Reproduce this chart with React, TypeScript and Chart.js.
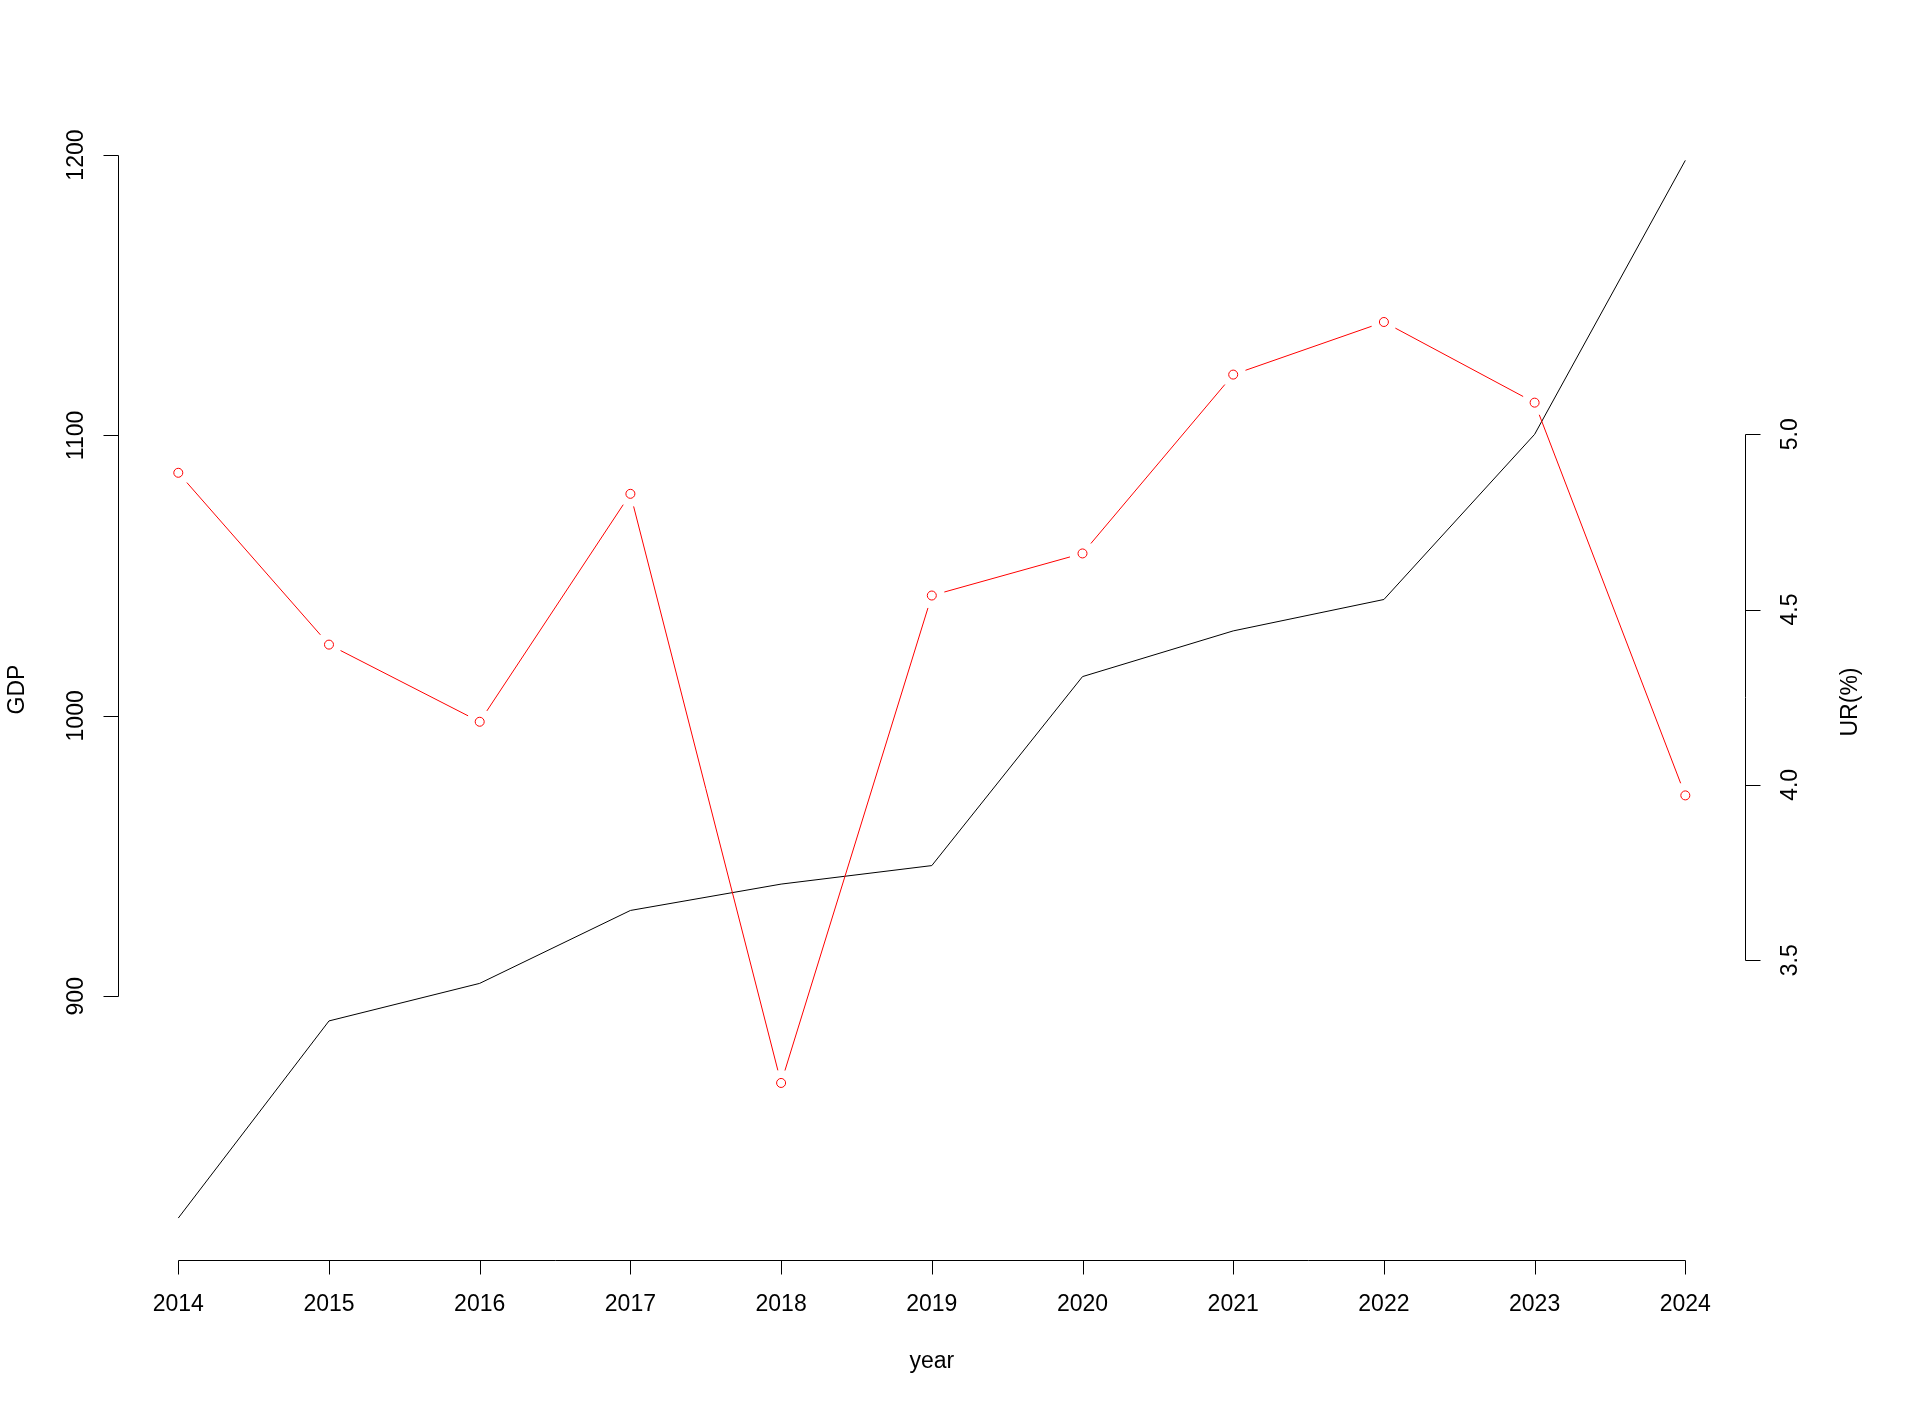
import React, { useEffect, useRef } from "react";
import { Chart, registerables } from "chart.js";

Chart.register(...registerables);

const years = [2014, 2015, 2016, 2017, 2018, 2019, 2020, 2021, 2022, 2023, 2024];
const gdp = [820.9, 891.2, 904.6, 930.6, 940.0, 946.6, 1014.0, 1030.3, 1041.5, 1100.4, 1198.1];
const ur = [4.89, 4.4, 4.18, 4.83, 3.15, 4.54, 4.66, 5.17, 5.32, 5.09, 3.97];
const gdpTicks = [900, 1000, 1100, 1200];
const urTicks = [3.5, 4.0, 4.5, 5.0];
const xLabel = "year";
const yLabel = "GDP";
const y2Label = "UR(%)";

const FONT = '23px "Liberation Sans", Arial, sans-serif';

const rAxesPlugin = {
  id: "rAxes",
  afterDatasetsDraw(chart: any) {
    const ctx = chart.ctx as CanvasRenderingContext2D;
    const xs = chart.scales.x;
    const ys = chart.scales.y;
    const y2s = chart.scales.y2;
    const area = chart.chartArea;

    // gapped red line (type = "b")
    const meta = chart.getDatasetMeta(1);
    const gap = 13;
    ctx.save();
    ctx.strokeStyle = "#FF0000";
    ctx.lineWidth = 1;
    for (let i = 0; i < meta.data.length - 1; i++) {
      const a = meta.data[i];
      const b = meta.data[i + 1];
      const dx = b.x - a.x;
      const dy = b.y - a.y;
      const len = Math.hypot(dx, dy);
      if (len <= 2 * gap) continue;
      const ux = dx / len;
      const uy = dy / len;
      ctx.beginPath();
      ctx.moveTo(a.x + ux * gap, a.y + uy * gap);
      ctx.lineTo(b.x - ux * gap, b.y - uy * gap);
      ctx.stroke();
    }
    ctx.restore();

    ctx.save();
    ctx.strokeStyle = "#000";
    ctx.fillStyle = "#000";
    ctx.lineWidth = 1;
    ctx.font = FONT;

    // bottom axis
    const xb = Math.round(area.bottom) + 0.5;
    const x0 = Math.round(xs.getPixelForValue(years[0])) + 0.5;
    const x1 = Math.round(xs.getPixelForValue(years[years.length - 1])) + 0.5;
    ctx.beginPath();
    ctx.moveTo(x0, xb);
    ctx.lineTo(x1, xb);
    years.forEach((yv) => {
      const px = Math.round(xs.getPixelForValue(yv)) + 0.5;
      ctx.moveTo(px, xb);
      ctx.lineTo(px, xb + 14);
    });
    ctx.stroke();
    ctx.textAlign = "center";
    ctx.textBaseline = "middle";
    years.forEach((yv) => {
      ctx.fillText(String(yv), xs.getPixelForValue(yv), xb + 44);
    });
    ctx.fillText(xLabel, (area.left + area.right) / 2, xb + 101);

    // left axis
    const xl = Math.round(area.left) + 0.5;
    ctx.beginPath();
    ctx.moveTo(xl, Math.round(ys.getPixelForValue(gdpTicks[0])) + 0.5);
    ctx.lineTo(xl, Math.round(ys.getPixelForValue(gdpTicks[gdpTicks.length - 1])) + 0.5);
    gdpTicks.forEach((t) => {
      const py = Math.round(ys.getPixelForValue(t)) + 0.5;
      ctx.moveTo(xl, py);
      ctx.lineTo(xl - 15, py);
    });
    ctx.stroke();
    gdpTicks.forEach((t) => {
      const py = ys.getPixelForValue(t);
      ctx.save();
      ctx.translate(xl - 42, py);
      ctx.rotate(-Math.PI / 2);
      ctx.fillText(String(t), 0, 0);
      ctx.restore();
    });
    ctx.save();
    ctx.translate(18, (area.top + area.bottom) / 2);
    ctx.rotate(-Math.PI / 2);
    ctx.fillText(yLabel, 0, 0);
    ctx.restore();

    // right axis
    const xr = Math.round(area.right) - 0.5;
    ctx.beginPath();
    ctx.moveTo(xr, Math.round(y2s.getPixelForValue(urTicks[0])) + 0.5);
    ctx.lineTo(xr, Math.round(y2s.getPixelForValue(urTicks[urTicks.length - 1])) + 0.5);
    urTicks.forEach((t) => {
      const py = Math.round(y2s.getPixelForValue(t)) + 0.5;
      ctx.moveTo(xr, py);
      ctx.lineTo(xr + 15, py);
    });
    ctx.stroke();
    urTicks.forEach((t) => {
      const py = y2s.getPixelForValue(t);
      ctx.save();
      ctx.translate(xr + 45, py);
      ctx.rotate(-Math.PI / 2);
      ctx.fillText(t.toFixed(1), 0, 0);
      ctx.restore();
    });
    ctx.save();
    ctx.translate(xr + 105, 702);
    ctx.rotate(-Math.PI / 2);
    ctx.fillText(y2Label, 0, 0);
    ctx.restore();

    ctx.restore();
  },
};

export default function App() {
  const ref = useRef<HTMLCanvasElement>(null);
  useEffect(() => {
    if (!ref.current) return;
    const chart = new Chart(ref.current, {
      type: "line",
      data: {
        datasets: [
          {
            label: "GDP",
            data: years.map((x, i) => ({ x, y: gdp[i] })),
            borderColor: "#000000",
            borderWidth: 1,
            pointRadius: 0,
            yAxisID: "y",
            order: 1,
            tension: 0,
          },
          {
            label: "UR",
            data: years.map((x, i) => ({ x, y: ur[i] })),
            borderColor: "#FF0000",
            backgroundColor: "rgba(0,0,0,0)",
            borderWidth: 1,
            showLine: false,
            pointRadius: 4.5,
            pointBorderWidth: 1,
            pointBorderColor: "#FF0000",
            pointBackgroundColor: "rgba(0,0,0,0)",
            yAxisID: "y2",
            order: 0,
          },
        ],
      },
      options: {
        animation: false,
        responsive: false,
        devicePixelRatio: 1,
        layout: { padding: { left: 118, top: 118.6, right: 175.4, bottom: 146.6 } },
        plugins: { legend: { display: false }, tooltip: { enabled: false } },
        scales: {
          x: { type: "linear", min: 2013.6, max: 2024.4, display: false },
          y: { type: "linear", min: 805.8, max: 1213.0, display: false },
          y2: { type: "linear", min: 2.644, max: 5.9, display: false, position: "right" },
        },
      },
      plugins: [rAxesPlugin],
    });
    return () => chart.destroy();
  }, []);
  return (
    <div style={{ position: "absolute", left: 0, top: 0, width: 1921, height: 1407, background: "#fff" }}>
      <canvas ref={ref} width={1921} height={1407} style={{ display: "block" }} />
    </div>
  );
}
